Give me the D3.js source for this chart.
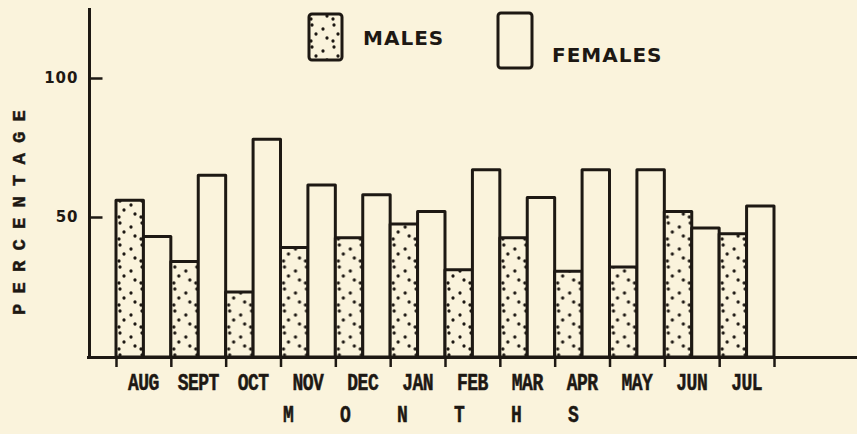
<!DOCTYPE html>
<html>
<head>
<meta charset="utf-8">
<script src="https://cdn.jsdelivr.net/npm/d3@7"></script>
<style>
  html, body { margin: 0; padding: 0; background: #faf3dc; }
  svg { display: block; }
</style>
</head>
<body>
<svg id="chart" width="857" height="434"></svg>
<script>
// Monthly percentages of males and females
const months = ["AUG", "SEPT", "OCT", "NOV", "DEC", "JAN", "FEB", "MAR", "APR", "MAY", "JUN", "JUL"];
const males = [56, 34, 23, 39, 42.5, 47.5, 31, 42.5, 30.5, 32, 52, 44];
const females = [43, 65, 78, 61.5, 58, 52, 67, 57, 67, 67, 46, 54];
const seriesNames = ["MALES", "FEMALES"];
const yTicks = [50, 100];
const yTitle = "PERCENTAGE";
const xTitle = "MONTHS";

const W = 857, H = 434;
const ink = "#1d1813";
const paper = "#faf3dc";
const typeFont = "'Liberation Mono', 'DejaVu Sans Mono', monospace";
const letterFont = "'DejaVu Sans', 'Noto Sans', sans-serif";

const svg = d3.select("#chart");
svg.append("rect").attr("width", W).attr("height", H).attr("fill", paper);

// stipple texture for the male bars
const defs = svg.append("defs");
const pat = defs.append("pattern")
  .attr("id", "stipple")
  .attr("patternUnits", "userSpaceOnUse")
  .attr("width", 22).attr("height", 22);
pat.append("rect").attr("width", 22).attr("height", 22).attr("fill", paper);
[[4, 3], [15, 7], [8, 12], [19, 16], [3, 19]].forEach(([cx, cy]) =>
  pat.append("circle").attr("cx", cx).attr("cy", cy).attr("r", 1.65).attr("fill", ink));

// scales
const x = d3.scaleBand().domain(months).range([116, 774]);
const sub = d3.scaleBand().domain(seriesNames).range([0, x.bandwidth()]);
const y = d3.scaleLinear().domain([0, 100]).range([356, 78]);
const xEdge = d3.scaleLinear().domain([0, months.length]).range(x.range());

const rows = months.map((m, i) => ({ month: m, MALES: males[i], FEMALES: females[i] }));

// bars
const barG = svg.append("g")
  .attr("stroke", ink).attr("stroke-width", 3).attr("stroke-linejoin", "round");

barG.selectAll("g.month")
  .data(rows)
  .join("g")
  .attr("class", "month")
  .attr("transform", d => `translate(${x(d.month)},0)`)
  .selectAll("rect")
  .data(d => seriesNames.map(s => ({ key: s, value: d[s] })))
  .join("rect")
  .attr("x", d => sub(d.key))
  .attr("y", d => y(d.value))
  .attr("width", sub.bandwidth())
  .attr("height", d => y(0) - y(d.value) + 1)
  .attr("fill", d => d.key === "MALES" ? "url(#stipple)" : paper);

// axis lines
svg.append("line")
  .attr("x1", 87).attr("x2", W).attr("y1", 357.5).attr("y2", 357.5)
  .attr("stroke", ink).attr("stroke-width", 3);
svg.append("line")
  .attr("x1", 89.5).attr("x2", 89.5).attr("y1", 8).attr("y2", 359)
  .attr("stroke", ink).attr("stroke-width", 3);

// y ticks drawn inward with labels to the left
const yAxis = svg.append("g")
  .attr("transform", "translate(89.5,0)")
  .call(d3.axisLeft(y).tickValues(yTicks).tickSizeInner(-13).tickSizeOuter(0)
    .tickPadding(11).tickFormat(d3.format("d")));
yAxis.select(".domain").remove();
yAxis.selectAll(".tick line").attr("stroke", ink).attr("stroke-width", 2.5);
yAxis.selectAll(".tick text")
  .attr("fill", ink)
  .style("font-family", letterFont)
  .style("font-weight", "bold")
  .style("font-size", "15px")
  .style("letter-spacing", "1px");

// x ticks at the edges of each month pair
const xAxis = svg.append("g")
  .attr("transform", "translate(0,357)")
  .call(d3.axisBottom(xEdge).tickValues(d3.range(months.length + 1)).tickSize(10).tickFormat(""));
xAxis.select(".domain").remove();
xAxis.selectAll(".tick line").attr("stroke", ink).attr("stroke-width", 2.5);

// month labels
svg.append("g")
  .selectAll("text")
  .data(months)
  .join("text")
  .attr("transform", m => `translate(${x(m) + x.bandwidth() / 2},390) scale(1,1.3)`)
  .attr("text-anchor", "middle")
  .attr("fill", ink)
  .attr("stroke", ink).attr("stroke-width", 0.4)
  .style("font-family", typeFont)
  .style("font-weight", "bold")
  .style("font-size", "18px")
  .style("letter-spacing", "-0.5px")
  .text(m => m);

// axis titles
svg.append("text")
  .attr("transform", "translate(25,315) rotate(-90)")
  .attr("fill", ink)
  .attr("stroke", ink).attr("stroke-width", 0.4)
  .style("font-family", typeFont)
  .style("font-weight", "bold")
  .style("font-size", "19px")
  .style("letter-spacing", "10.1px")
  .text(yTitle);

svg.append("text")
  .attr("transform", "translate(283,422) scale(1,1.3)")
  .attr("fill", ink)
  .attr("stroke", ink).attr("stroke-width", 0.4)
  .style("font-family", typeFont)
  .style("font-weight", "bold")
  .style("font-size", "18px")
  .style("letter-spacing", "46.2px")
  .text(xTitle);

// legend
const legend = [
  { key: "MALES", box: [309, 14, 33, 46], label: [363, 45] },
  { key: "FEMALES", box: [498, 13, 34, 55], label: [552, 62] }
];
const lg = svg.append("g");
lg.selectAll("rect")
  .data(legend)
  .join("rect")
  .attr("x", d => d.box[0]).attr("y", d => d.box[1])
  .attr("width", d => d.box[2]).attr("height", d => d.box[3])
  .attr("rx", 3)
  .attr("fill", d => d.key === "MALES" ? "url(#stipple)" : paper)
  .attr("stroke", ink).attr("stroke-width", 3);
lg.selectAll("text")
  .data(legend)
  .join("text")
  .attr("x", d => d.label[0]).attr("y", d => d.label[1])
  .attr("fill", ink)
  .style("font-family", letterFont)
  .style("font-weight", "bold")
  .style("font-size", "20px")
  .style("letter-spacing", "1px")
  .text(d => d.key);
</script>
</body>
</html>
